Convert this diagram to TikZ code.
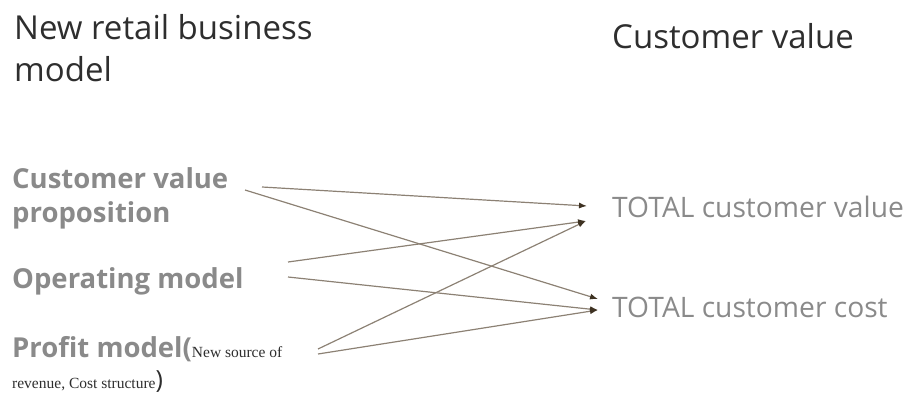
\documentclass[tikz,border=0pt]{standalone}
\usepackage{fontspec}
\setmainfont{Open Sans}
\newfontfamily\serifsmall{Liberation Serif}
\usetikzlibrary{arrows.meta}
\definecolor{headc}{HTML}{2E2E2E}
\definecolor{labgray}{HTML}{8A8A8A}
\definecolor{linec}{HTML}{8C8174}
\definecolor{tipc}{HTML}{3E3222}
\tikzset{
  head/.style={anchor=base west, inner sep=0pt, text=headc, font=\fontsize{33}{42}\selectfont},
  leftlab/.style={anchor=base west, inner sep=0pt, text=labgray, font=\bfseries\fontsize{27.5}{34}\selectfont},
  rightlab/.style={anchor=base west, inner sep=0pt, text=labgray, font=\fontsize{28.2}{34}\selectfont},
  smallser/.style={},
  conn/.style={draw=linec, line width=1.2pt, -{Latex[length=8pt,width=6pt,fill=tipc,color=tipc]}}
}
\newcommand{\smser}{\mdseries\serifsmall\color{headc}\fontsize{15.5}{30}\selectfont}
\begin{document}
\begin{tikzpicture}[x=1pt,y=-1pt]
\useasboundingbox (0,0) rectangle (909,393);
% headings
\node[head] (h1) at (14,40) {\parbox[t]{360pt}{\raggedright New retail business\\model}};
\node[head] (h2) at (612,49) {Customer value};
% left labels
\node[leftlab] (cvp) at (12,188) {\parbox[t]{260pt}{\raggedright Customer value\\proposition}};
\node[leftlab] (op) at (12,288) {Operating model};
\node[leftlab] (pm) at (12,357) {\parbox[t]{360pt}{\raggedright Profit model({\smser New source of}\\[-3pt]{\smser revenue, Cost structure}{\mdseries\color{headc}\fontsize{25}{30}\selectfont)}}};
% right labels
\node[rightlab] (tv) at (612,217) {TOTAL customer value};
\node[rightlab] (tc) at (612,317) {TOTAL customer cost};
% connector ends
\coordinate (cvp-a) at (262,187);
\coordinate (cvp-b) at (245,190);
\coordinate (op-a) at (288,262);
\coordinate (op-b) at (288,277);
\coordinate (pm-a) at (318,349);
\coordinate (pm-b) at (318,354);
\coordinate (tv-a) at (587,206);
\coordinate (tv-b) at (586,221);
\coordinate (tc-a) at (598,299);
\coordinate (tc-b) at (598,310);
% connectors
\draw[conn] (cvp-a) -- (tv-a);
\draw[conn] (cvp-b) -- (tc-a);
\draw[conn] (op-a) -- (tv-b);
\draw[conn] (op-b) -- (tc-b);
\draw[conn] (pm-a) -- (tv-b);
\draw[conn] (pm-b) -- (tc-b);
\end{tikzpicture}
\end{document}
